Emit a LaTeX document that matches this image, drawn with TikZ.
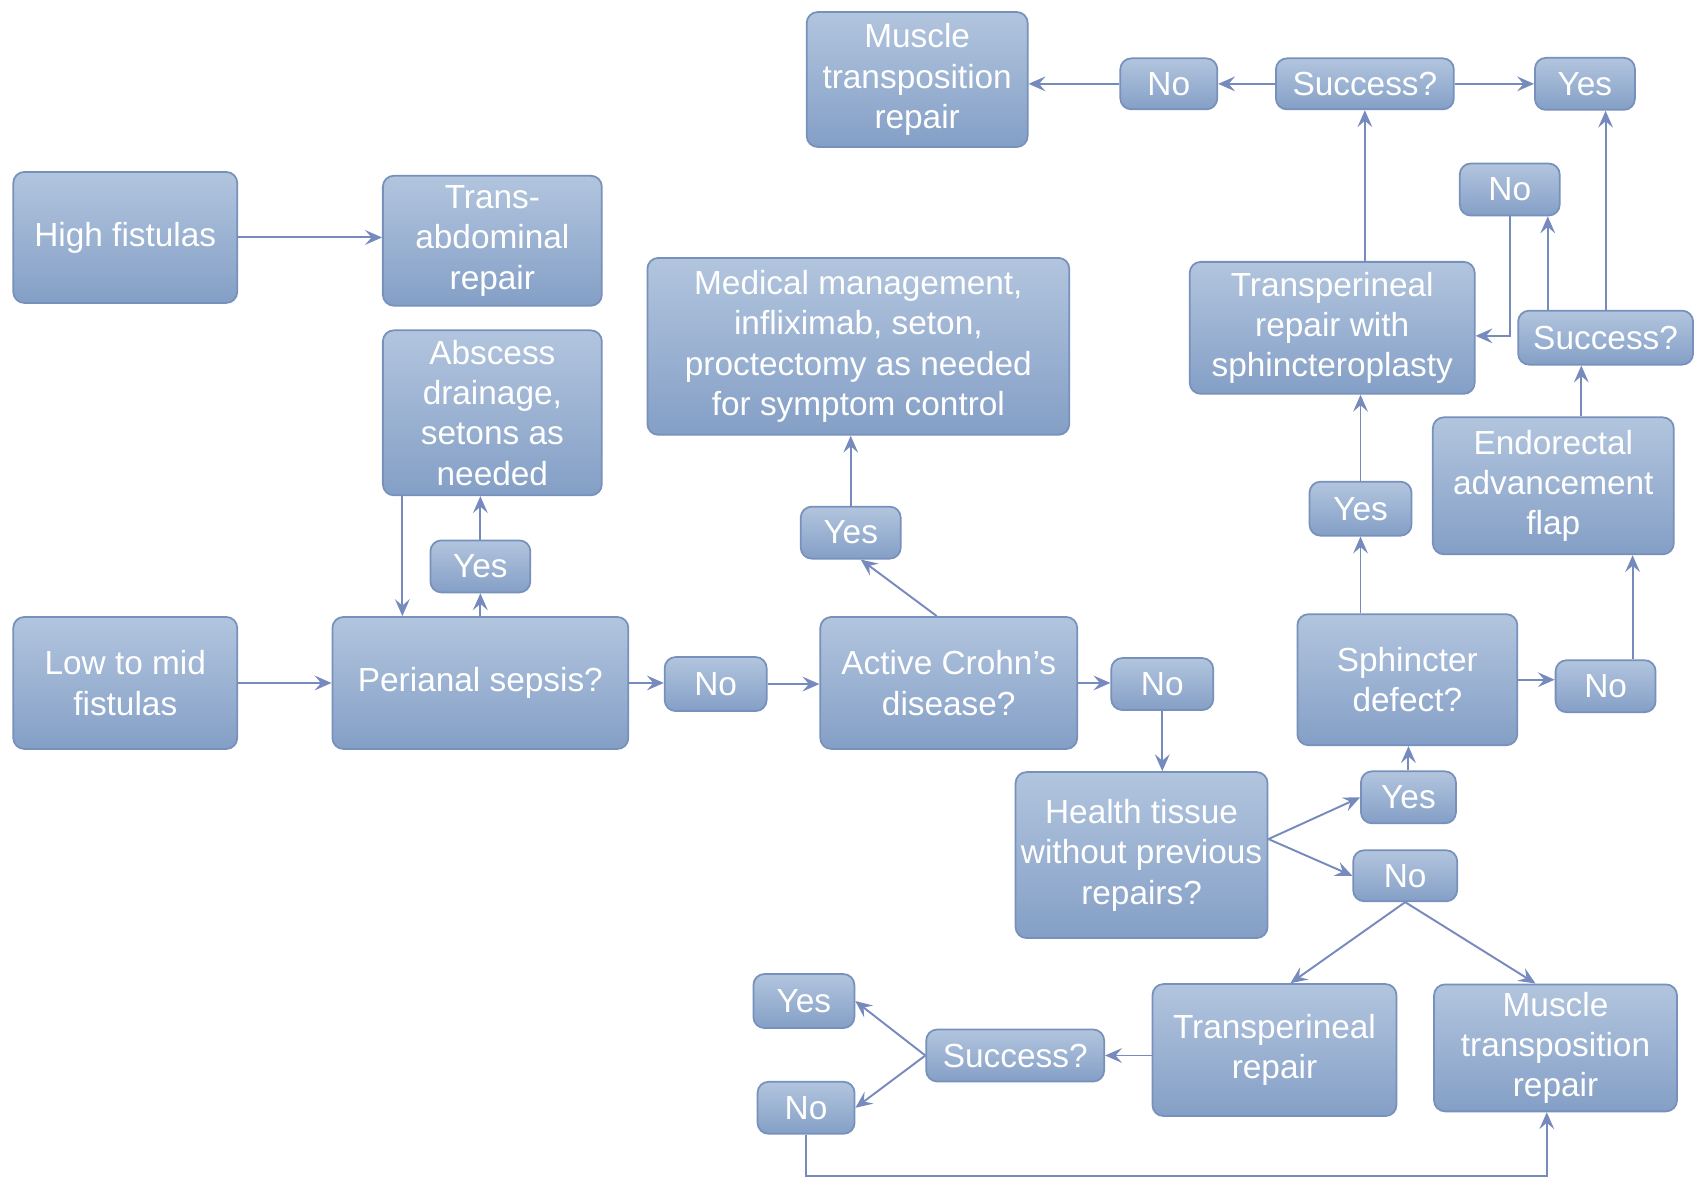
\documentclass[tikz,border=0pt]{standalone}
\usepackage{fontspec}
\setmainfont{Liberation Sans}
\usetikzlibrary{arrows.meta}

\definecolor{boxtop}{RGB}{178,197,222}
\definecolor{boxbot}{RGB}{132,159,198}
\definecolor{boxline}{RGB}{120,145,188}
\definecolor{linkcol}{RGB}{118,138,190}

\tikzset{
  box/.style={draw=boxline, line width=0.5pt, rounded corners=0.11cm,
    top color=boxtop, bottom color=boxbot, text=white, align=center,
    inner sep=1pt, font=\fontsize{9.5}{11.5}\selectfont},
  boxsize/.style 2 args={minimum width=#1cm, minimum height=#2cm},
  answer/.style={box, boxsize={1}{0.52}},
  link/.style={draw=linkcol, line width=0.55pt, -{Stealth[length=4.8pt,width=4.2pt,inset=1.8pt]}},
}

\begin{document}
\begin{tikzpicture}[x=0.010893cm, y=-0.010893cm]
    \useasboundingbox (0,0) rectangle (1568,1094);

    % left column
    \node[box, boxsize={2.24}{1.31}] (high) at (115,218) {High fistulas};
    \node[box, boxsize={2.19}{1.30}] (transab) at (452,221) {Trans-\\abdominal\\repair};
    \node[box, boxsize={2.19}{1.65}] (abscess) at (452,379) {Abscess\\drainage,\\setons as\\needed};
    \node[answer] (yesA) at (441,520) {Yes};
    \node[box, boxsize={2.24}{1.32}] (low) at (115,627) {Low to mid\\fistulas};
    \node[box, boxsize={2.96}{1.32}] (sepsis) at (441,627) {Perianal sepsis?};
    \node[answer, boxsize={1.02}{0.54}] (noA) at (657,628) {No};

    % middle
    \node[box, boxsize={2.57}{1.32}] (crohn) at (871,627) {Active Crohn’s\\disease?};
    \node[answer] (yesB) at (781,489) {Yes};
    \node[box, boxsize={4.22}{1.77}] (medical) at (788,318) {Medical management,\\infliximab, seton,\\proctectomy as needed\\for symptom control};
    \node[answer, boxsize={1.02}{0.52}] (noB) at (1067,628) {No};
    \node[box, boxsize={2.52}{1.66}] (health) at (1048,785) {Health tissue\\without previous\\repairs?};
    \node[answer, boxsize={0.95}{0.52}] (yesC) at (1293,732) {Yes};
    \node[answer, boxsize={1.04}{0.51}] (noC) at (1290,804) {No};

    % right column
    \node[box, boxsize={2.20}{1.31}] (sphincter) at (1292,624) {Sphincter\\defect?};
    \node[answer] (noD) at (1474,630) {No};
    \node[box, boxsize={2.41}{1.37}] (endo) at (1426,446) {Endorectal\\advancement\\flap};
    \node[answer, boxsize={1.75}{0.54}] (succR) at (1474,310) {Success?};
    \node[answer] (noE) at (1386,174) {No};
    \node[answer, boxsize={1.02}{0.54}] (yesS) at (1249,467) {Yes};
    \node[box, boxsize={2.85}{1.32}] (tsph) at (1223,301) {Transperineal\\repair with\\sphincteroplasty};

    % top row
    \node[answer, boxsize={1.78}{0.51}] (succT) at (1253,77) {Success?};
    \node[answer] (yesT) at (1455,77) {Yes};
    \node[answer, boxsize={0.97}{0.51}] (noT) at (1073,77) {No};
    \node[box, boxsize={2.21}{1.35}] (muscleT) at (842,73) {Muscle\\transposition\\repair};

    % bottom row
    \node[box, boxsize={2.44}{1.32}] (tbot) at (1170,964) {Transperineal\\repair};
    \node[box, boxsize={2.43}{1.27}] (mbot) at (1428,962) {Muscle\\transposition\\repair};
    \node[answer, boxsize={1.78}{0.52}] (succB) at (932,969) {Success?};
    \node[answer, boxsize={1.01}{0.54}] (yesD) at (738,919) {Yes};
    \node[answer, boxsize={0.97}{0.52}] (noF) at (740,1017) {No};
    \coordinate (loop) at (1420,1080);

    % connectors
    \draw[link] (high.east) -- (high.east -| transab.west);
    \draw[link] (low) -- (sepsis);
    \draw[link] (sepsis.east) -- (sepsis.east -| noA.west);
    \draw[link] (noA.east) -- (noA.east -| crohn.west);
    \draw[link] (sepsis.north) -- (yesA.south);
    \draw[link] (yesA.north) -- (yesA.north |- abscess.south);
    \draw[link] ([xshift=-0.9cm]abscess.south) -- ([xshift=-0.9cm]abscess.south |- sepsis.north);

    \draw[link] ([xshift=-0.12cm]crohn.north) -- ([xshift=0.1cm]yesB.south);
    \draw[link] (yesB.north) -- (yesB.north |- medical.south);
    \draw[link] (crohn.east) -- (crohn.east -| noB.west);
    \draw[link] (noB.south) -- (noB.south |- health.north);
    \draw[link] ([yshift=0.16cm]health.east) -- (yesC.west);
    \draw[link] ([yshift=0.16cm]health.east) -- (noC.west);

    \draw[link] (yesC.north) -- (yesC.north |- sphincter.south);
    \draw[link] (sphincter.east) -- (sphincter.east -| noD.west);
    \draw[link] ([xshift=0.27cm]noD.north) -- ([xshift=0.27cm]noD.north |- endo.south);
    \draw[link] ([xshift=0.28cm]endo.north) -- ([xshift=0.28cm]endo.north |- succR.south);
    \draw[link] ([xshift=0.38cm]noE.south |- succR.north) -- ([xshift=0.38cm]noE.south);
    \draw[link] (noE.south) |- ([yshift=-0.08cm]tsph.east);
    \draw[link] (succR.north) -- (succR.north |- yesT.south);
    \draw[link] (yesS.south |- sphincter.north) -- (yesS.south);
    \draw[link] (yesS.north) -- (yesS.north |- tsph.south);
    \draw[link] (succT.south |- tsph.north) -- (succT.south);
    \draw[link] (succT) -- (yesT);
    \draw[link] (succT) -- (noT);
    \draw[link] (noT.west) -- (noT.west -| muscleT.east);

    \draw[link] (noC.south) -- ([xshift=0.16cm]tbot.north);
    \draw[link] (noC.south) -- ([xshift=-0.2cm]mbot.north);
    \draw[link] (tbot.west |- succB.east) -- (succB.east);
    \draw[link] (succB.west) -- (yesD.east);
    \draw[link] (succB.west) -- (noF.east);
    \draw[link] (noF.south) |- (loop) -- (loop |- mbot.south);

\end{tikzpicture}
\end{document}
